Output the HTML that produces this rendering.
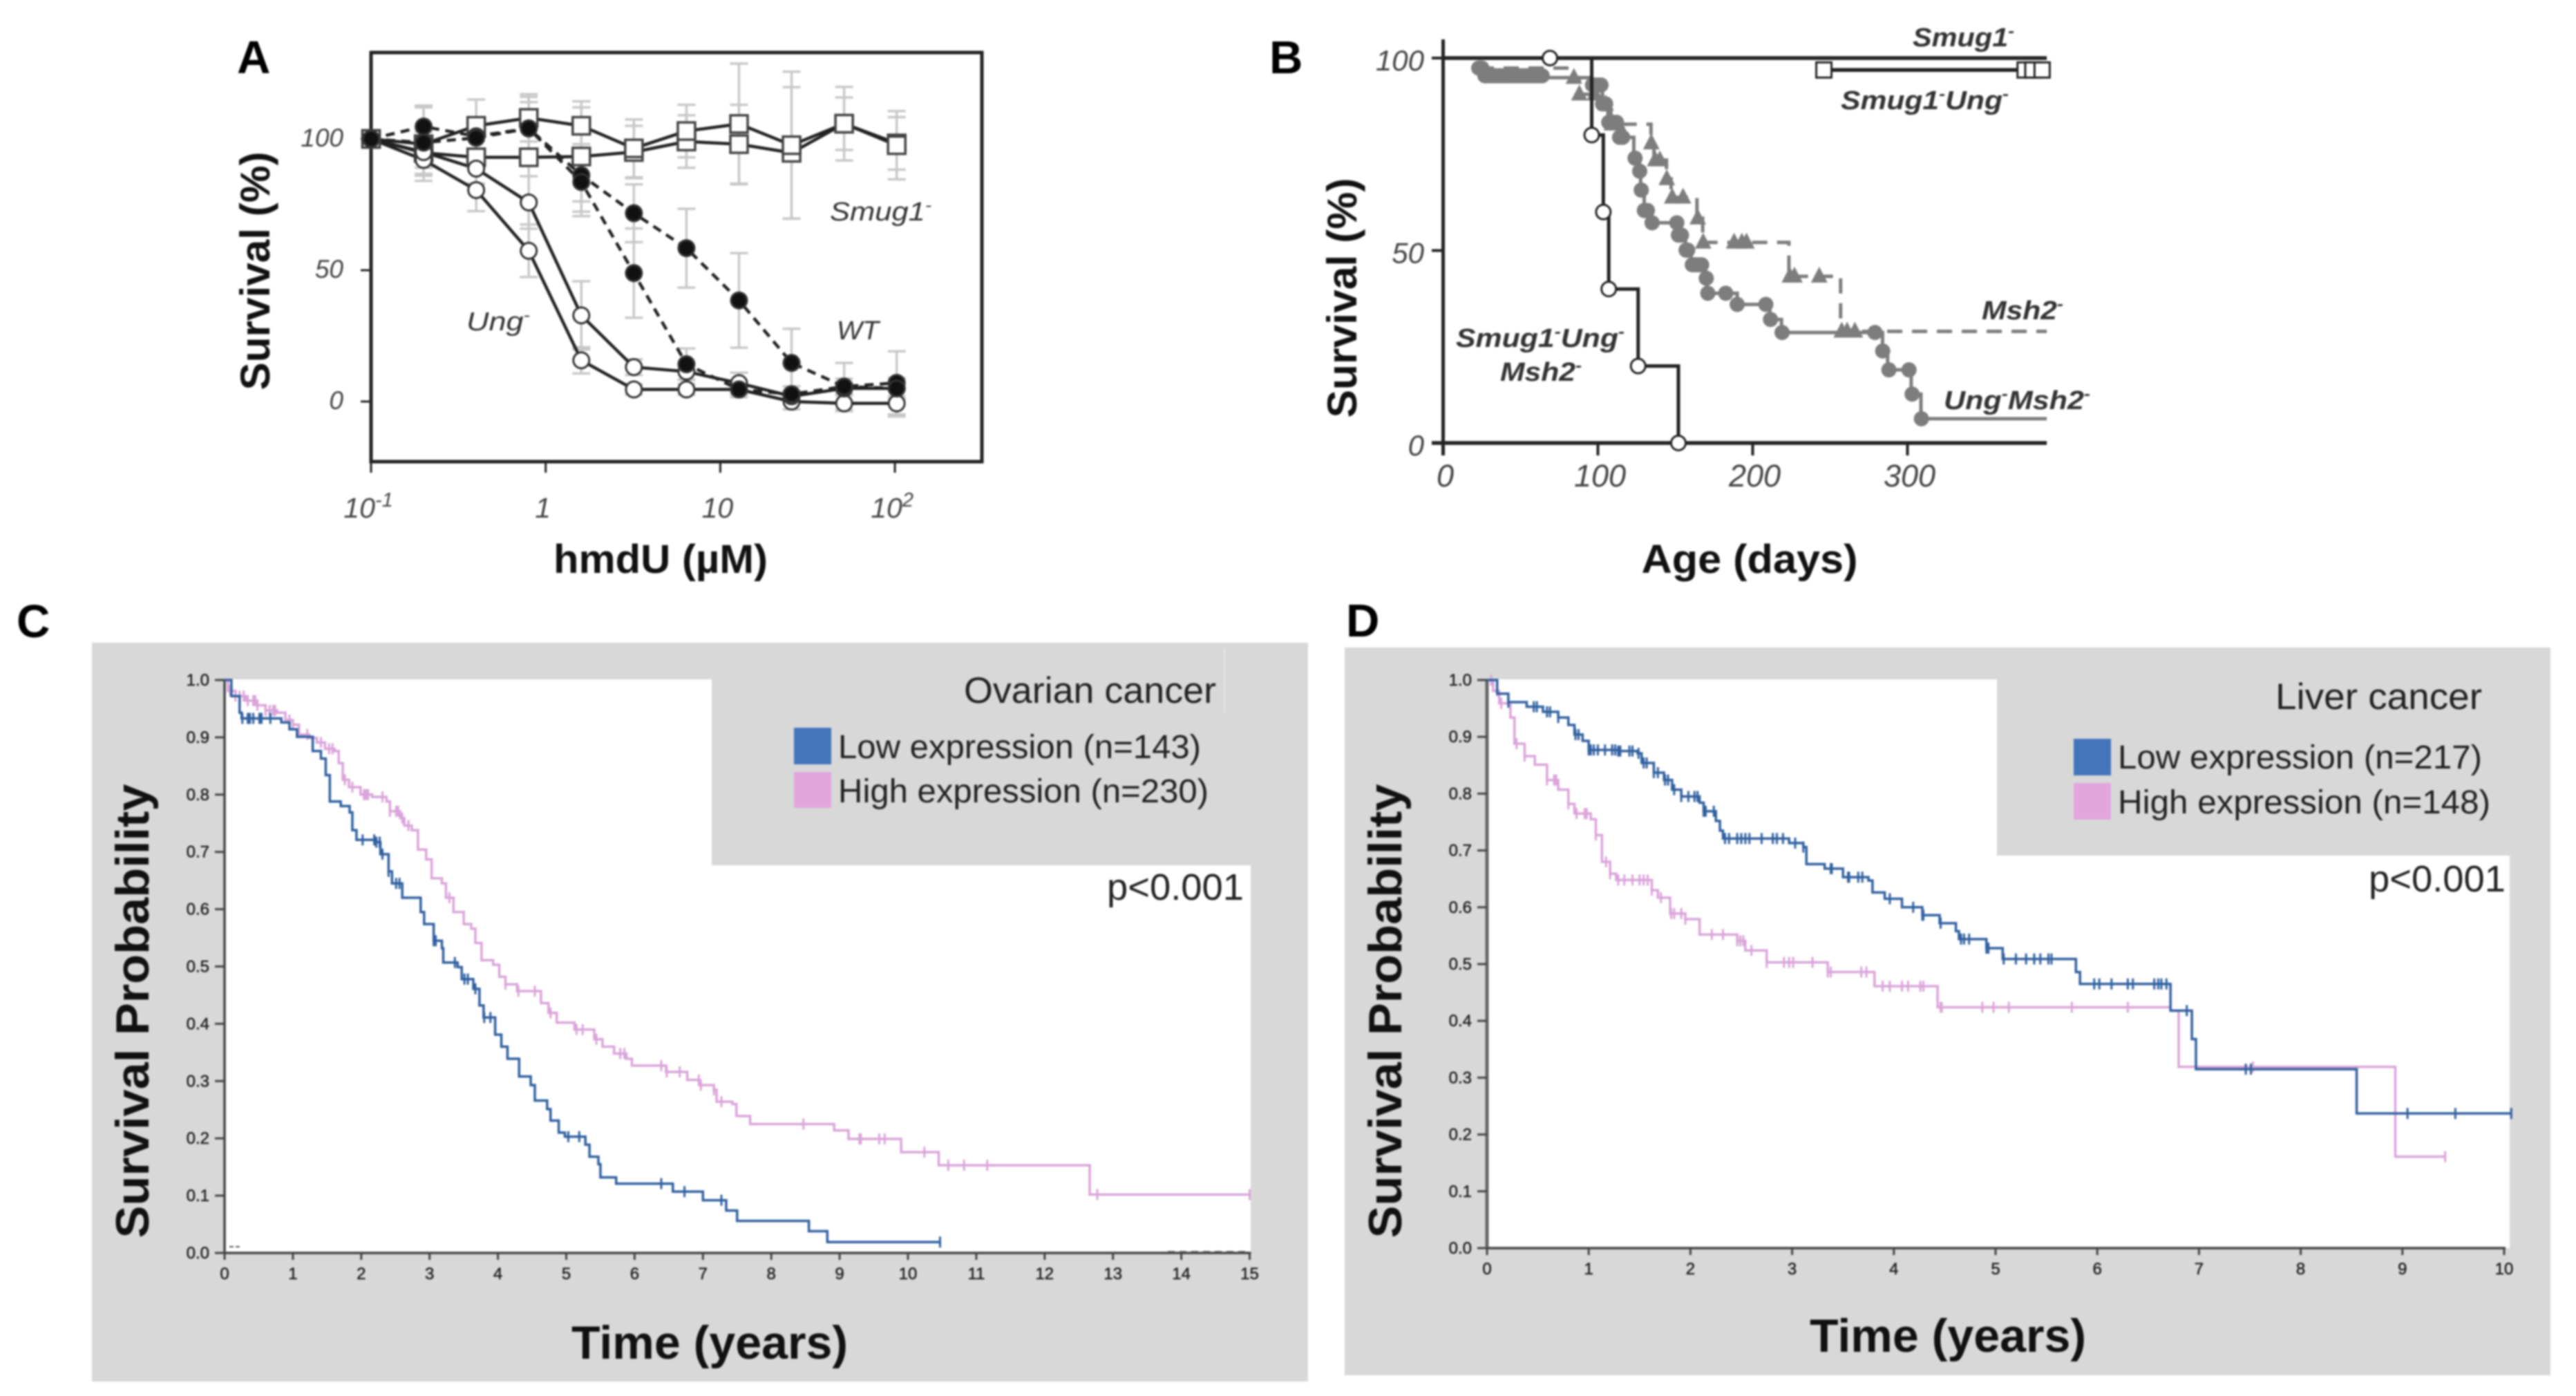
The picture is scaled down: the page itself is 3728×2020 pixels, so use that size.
<!DOCTYPE html>
<html lang="en">
<head>
<meta charset="utf-8">
<title>Survival figure panels A-D</title>
<style>
html,body{margin:0;padding:0;background:#fff;}
#figure{display:block;filter:blur(1.2px);font-family:"Liberation Sans",sans-serif;}
.plabel{font-size:67px;font-weight:700;fill:#000;}
.axt{font-weight:700;fill:#111;}
.ann{font-style:italic;fill:#333;font-size:38px;}
.annb{font-style:italic;font-weight:700;fill:#333;font-size:38px;}
.leg{fill:#222;font-size:48px;}
</style>
</head>
<body>
<svg id="figure" xmlns="http://www.w3.org/2000/svg" width="3728" height="2020" viewBox="0 0 3728 2020">
  <rect x="0" y="0" width="3728" height="2020" fill="#fff"/>

  <!-- Panel A -->
  <g id="panelA">
    <text class="plabel" x="343" y="106">A</text>
    <rect x="537" y="76" width="884" height="592" fill="#fff" stroke="#222" stroke-width="5"/>
    <text class="axt" transform="translate(390,392) rotate(-90)" text-anchor="middle" font-size="60" textLength="345" lengthAdjust="spacingAndGlyphs">Survival (%)</text>
    <text class="axt" x="956" y="829" text-anchor="middle" font-size="58" textLength="310" lengthAdjust="spacingAndGlyphs">hmdU (µM)</text>
    <text class="ann" x="1201" y="319" textLength="147" lengthAdjust="spacingAndGlyphs">Smug1<tspan font-size="24" dy="-14">-</tspan></text>
    <text class="ann" x="675" y="478" textLength="92" lengthAdjust="spacingAndGlyphs">Ung<tspan font-size="24" dy="-14">-</tspan></text>
    <text class="ann" x="1211" y="491" textLength="61" lengthAdjust="spacingAndGlyphs">WT</text>
  </g>

  <!-- Panel B -->
  <g id="panelB">
    <text class="plabel" x="1837" y="106">B</text>
    <text class="axt" transform="translate(1963,431) rotate(-90)" text-anchor="middle" font-size="60" textLength="347" lengthAdjust="spacingAndGlyphs">Survival (%)</text>
    <text class="axt" x="2532" y="829" text-anchor="middle" font-size="58" textLength="313" lengthAdjust="spacingAndGlyphs">Age (days)</text>
    <text class="annb" x="2768" y="67" textLength="147" lengthAdjust="spacingAndGlyphs">Smug1<tspan font-size="24" dy="-14">-</tspan></text>
    <text class="annb" x="2664" y="158" textLength="243" lengthAdjust="spacingAndGlyphs">Smug1<tspan font-size="24" dy="-14">-</tspan><tspan dy="14">Ung</tspan><tspan font-size="24" dy="-14">-</tspan></text>
    <text class="annb" x="2868" y="462" textLength="118" lengthAdjust="spacingAndGlyphs">Msh2<tspan font-size="24" dy="-14">-</tspan></text>
    <text class="annb" x="2813" y="592" textLength="212" lengthAdjust="spacingAndGlyphs">Ung<tspan font-size="24" dy="-14">-</tspan><tspan dy="14">Msh2</tspan><tspan font-size="24" dy="-14">-</tspan></text>
    <text class="annb" x="2107" y="502" textLength="244" lengthAdjust="spacingAndGlyphs">Smug1<tspan font-size="24" dy="-14">-</tspan><tspan dy="14">Ung</tspan><tspan font-size="24" dy="-14">-</tspan></text>
    <text class="annb" x="2171" y="551" textLength="118" lengthAdjust="spacingAndGlyphs">Msh2<tspan font-size="24" dy="-14">-</tspan></text>
  </g>

  <!-- Panel C -->
  <g id="panelC">
    <text class="plabel" x="24" y="922">C</text>
    <rect x="133" y="930" width="1760" height="1069" fill="#d8d8d9"/>
    <rect x="325" y="983" width="1485" height="830" fill="#fff"/>
    <rect x="1030" y="930" width="863" height="322" fill="#d8d8d9"/>
    <line x1="1772" y1="938" x2="1772" y2="1032" stroke="#e6e6e6" stroke-width="2"/>
    <text x="1395" y="1017" font-size="53" fill="#222" textLength="365" lengthAdjust="spacingAndGlyphs">Ovarian cancer</text>
    <rect x="1149" y="1053" width="54" height="53" fill="#4475bb"/>
    <rect x="1149" y="1117" width="54" height="52" fill="#e2a6dd"/>
    <text class="leg" x="1213" y="1097" textLength="525" lengthAdjust="spacingAndGlyphs">Low expression (n=143)</text>
    <text class="leg" x="1213" y="1161" textLength="536" lengthAdjust="spacingAndGlyphs">High expression (n=230)</text>
    <text x="1602" y="1302" font-size="54" fill="#222" textLength="198" lengthAdjust="spacingAndGlyphs">p&lt;0.001</text>
    <text class="axt" transform="translate(215,1463) rotate(-90)" text-anchor="middle" font-size="68" textLength="657" lengthAdjust="spacingAndGlyphs">Survival Probability</text>
    <text class="axt" x="1027" y="1966" text-anchor="middle" font-size="68" textLength="400" lengthAdjust="spacingAndGlyphs">Time (years)</text>
    <line x1="332" y1="1804" x2="347" y2="1804" stroke="#555" stroke-width="2" stroke-dasharray="6 3"/>
    <line x1="1690" y1="1811" x2="1805" y2="1811" stroke="#777" stroke-width="2" stroke-dasharray="10 7"/>
  </g>

  <!-- Panel D -->
  <g id="panelD">
    <text class="plabel" x="1948" y="921">D</text>
    <rect x="1946" y="937" width="1745" height="1053" fill="#d8d8d9"/>
    <rect x="2152" y="983" width="1480" height="823" fill="#fff"/>
    <rect x="2890" y="937" width="801" height="301" fill="#d8d8d9"/>
    <text x="3293" y="1026" font-size="53" fill="#222" textLength="299" lengthAdjust="spacingAndGlyphs">Liver cancer</text>
    <rect x="3001" y="1069" width="54" height="53" fill="#4475bb"/>
    <rect x="3001" y="1133" width="54" height="53" fill="#e2a6dd"/>
    <text class="leg" x="3065" y="1112" textLength="527" lengthAdjust="spacingAndGlyphs">Low expression (n=217)</text>
    <text class="leg" x="3065" y="1177" textLength="539" lengthAdjust="spacingAndGlyphs">High expression (n=148)</text>
    <text x="3428" y="1290" font-size="54" fill="#222" textLength="198" lengthAdjust="spacingAndGlyphs">p&lt;0.001</text>
    <text class="axt" transform="translate(2028,1463) rotate(-90)" text-anchor="middle" font-size="68" textLength="657" lengthAdjust="spacingAndGlyphs">Survival Probability</text>
    <text class="axt" x="2819" y="1956" text-anchor="middle" font-size="68" textLength="400" lengthAdjust="spacingAndGlyphs">Time (years)</text>
  </g>
</svg>

<script>
// ---------- Panel A data ----------
const aDoses = [0.1,0.2,0.4,0.8,1.6,3.2,6.4,12.8,25.6,51.2,102.4];
const aSmugOne = [100,98,105,108,105,96.4,103,105.7,97.6,105.8,97.6];
const aSmugTwo = [100,94.7,93,93,93.3,95,99,98,94.7,105.8,98.3];
const aUngOne = [100,92,80.5,57.4,15.7,4.6,4.6,4.6,0,-0.7,-0.7];
const aUngTwo = [100,95,88.7,75.8,32.8,13.1,11.4,7,2,5,5];
const aWtOne = [100,104.7,101,104,86.2,71.7,58.4,38.5,14.7,5.7,7.1];
const aWtTwo = [100,98.6,100.4,104,83.6,48.9,14.2,4.6,2.8,5.7,5];
const aSmugOneErr = [0,14,10,9,7,11,10,23,28,14,13];
const aSmugTwoErr = [0,8,10,16,21,10,10,15,25,10,10];
const aUngOneErr = [0,6,8,10,5,2,2,2,3,3,5];
const aUngTwoErr = [0,6,6,10,13,3,3,4,2,2,4];
const aWtOneErr = [0,8,6,10,10,11,15,18,13,9,12];
const aWtTwoErr = [0,6,6,12,13,17,6,3,3,3,3];
const aYTicks = [0,50,100];
const aXTicks = [0.1,1,10,100];
const aXTickBase = ['10','1','10','10'];
const aXTickExp = ['-1','','','2'];

// ---------- Panel B data ----------
const bYTicks = [0,50,100];
const bXTicks = [0,100,200,300];
const bSmugCircleDays = [69];
const bSmugUngDays = [246,376,381,387];
const bSmugUngValue = [96.9];
const bTripleDays = [96,103.5,107,126,152];
const bTripleValues = [80,60,40,20,0];
const bUngDays = [23,26.7,65.7,96.1,102.8,106.5,113.9,123.2,126.9,127.6,129.9,134.3,151.8,156.6,160.3,169.6,170.3,190,211.1,218.6,283.9,287.2,302.4,308.7];
const bUngValues = [97.4,95.4,94.9,93,88.1,83.3,79.4,74,70.6,65.7,60.4,57.2,54,50.1,46.3,42.8,38.9,36,32.1,28.7,23.9,19,12.7,6.3];
const bUngMarks = [23,24,25,27,28,29,31,33,34,36,37,39,40,42,44,46,48,50,52,54,56,58,60,62,64,96.5,98,100,102,103,105,107,109,110,112,114,116,124,127,128,130,132,135,151,152,154,157,158,161,163,165,167,170,171,182.6,190,208.5,211.5,219,279,284,288,301,303,309];
const bMshDays = [23,84,88,103,108.4,134.3,136.2,144.3,147.3,164,167.7,223.4,256.8];
const bMshValues = [97.4,94.9,90.6,88,82.8,77.9,73.5,68.6,63.8,58.4,52.1,43.3,29];
const bMshMarks = [84.5,88,98,105,109,113,134.5,137,140,144.5,148,155,164.5,168,188,193,196,224,227,243,257.5,261,266];

// ---------- Panel C data ----------
const cYTicks = [0,0.1,0.2,0.3,0.4,0.5,0.6,0.7,0.8,0.9,1];
const cXTicks = [0,1,2,3,4,5,6,7,8,9,10,11,12,13,14,15];
const cLowTimes = [0.10,0.22,0.25,0.83,0.95,1.06,1.29,1.41,1.48,1.54,1.70,1.83,1.87,1.93,2.22,2.28,2.40,2.45,2.60,2.87,2.92,3.06,3.18,3.20,3.41,3.47,3.64,3.73,3.79,3.96,4.05,4.14,4.31,4.48,4.54,4.72,4.77,4.89,4.98,5.28,5.34,5.47,5.50,5.73,6.56,7.00,7.34,7.50,8.55,8.82];
const cLowValues = [0.972,0.943,0.933,0.926,0.914,0.901,0.876,0.863,0.834,0.788,0.780,0.769,0.738,0.721,0.717,0.696,0.666,0.645,0.620,0.595,0.574,0.545,0.532,0.507,0.499,0.478,0.461,0.432,0.411,0.381,0.360,0.339,0.308,0.293,0.266,0.251,0.231,0.210,0.203,0.189,0.168,0.155,0.132,0.121,0.107,0.092,0.074,0.056,0.038,0.019];
const cLowEnd = [10.47];
const cLowCensor = [0.26,0.34,0.37,0.42,0.51,0.54,0.67,2.02,2.19,2.22,2.27,2.31,2.40,2.51,2.56,3.06,3.09,3.37,3.51,3.56,3.67,3.80,3.89,5.03,5.19,6.39,6.73,7.27,10.47];
const cHighTimes = [0.05,0.16,0.31,0.48,0.60,0.77,0.89,1.00,1.09,1.24,1.35,1.47,1.61,1.67,1.73,1.82,1.99,2.16,2.37,2.42,2.57,2.63,2.74,2.83,2.95,3.03,3.18,3.24,3.35,3.50,3.61,3.67,3.76,3.93,4.02,4.11,4.28,4.63,4.74,4.86,5.12,5.41,5.53,5.70,5.88,5.96,6.46,6.77,6.95,7.16,7.20,7.43,7.49,7.69,8.92,9.13,9.90,10.45,12.66];
const cHighValues = [0.981,0.972,0.964,0.956,0.947,0.943,0.930,0.922,0.905,0.899,0.891,0.880,0.876,0.855,0.826,0.813,0.800,0.796,0.788,0.771,0.759,0.746,0.738,0.704,0.687,0.654,0.645,0.620,0.595,0.574,0.566,0.541,0.511,0.503,0.482,0.469,0.457,0.436,0.419,0.402,0.390,0.373,0.360,0.348,0.339,0.327,0.316,0.302,0.293,0.285,0.264,0.260,0.239,0.225,0.214,0.199,0.176,0.153,0.102];
const cHighEnd = [15];
const cHighCensor = [0.08,0.16,0.22,0.28,0.34,0.42,0.45,0.48,0.60,0.66,0.71,0.74,0.95,1.00,1.21,1.41,1.53,1.58,1.76,1.87,2.04,2.07,2.10,2.31,2.42,2.51,2.54,2.60,2.69,3.29,4.11,4.30,4.54,4.77,5.15,5.24,5.44,5.79,5.85,6.39,6.47,6.66,6.94,6.97,7.16,7.27,8.47,9.29,9.31,9.58,9.66,10.24,10.59,10.82,11.16,12.77,15];

// ---------- Panel D data ----------
const dYTicks = [0,0.1,0.2,0.3,0.4,0.5,0.6,0.7,0.8,0.9,1];
const dXTicks = [0,1,2,3,4,5,6,7,8,9,10];
const dLowTimes = [0.10,0.21,0.39,0.55,0.70,0.80,0.86,0.94,1.00,1.29,1.48,1.52,1.64,1.74,1.82,1.91,2.09,2.13,2.25,2.29,2.32,2.97,3.11,3.14,3.32,3.50,3.75,3.79,3.91,4.08,4.28,4.45,4.61,4.64,4.91,5.07,5.79,5.83,6.72,6.93,6.97,8.55];
const dLowValues = [0.976,0.961,0.953,0.944,0.934,0.921,0.904,0.893,0.877,0.875,0.871,0.854,0.837,0.824,0.807,0.795,0.784,0.769,0.752,0.735,0.721,0.713,0.706,0.676,0.668,0.653,0.647,0.626,0.615,0.600,0.586,0.572,0.558,0.544,0.528,0.509,0.486,0.465,0.418,0.368,0.315,0.237];
const dLowEnd = [10.07];
const dLowCensor = [0.21,0.46,0.49,0.59,0.62,0.70,0.87,0.90,1.00,1.02,1.05,1.09,1.16,1.23,1.26,1.29,1.31,1.40,1.43,1.49,1.54,1.57,1.64,1.68,1.75,1.78,1.84,1.91,1.98,2.04,2.07,2.13,2.15,2.23,2.34,2.38,2.46,2.50,2.54,2.58,2.70,2.81,2.85,2.91,3.03,3.11,3.38,3.39,3.55,3.56,3.65,3.69,3.96,4.19,4.28,4.29,4.46,4.66,4.69,4.74,4.91,4.93,5.08,5.20,5.30,5.38,5.44,5.52,5.55,5.97,6.02,6.14,6.30,6.35,6.56,6.60,6.63,6.68,6.88,7.46,7.51,9.05,9.52,10.07];
const dHighTimes = [0.06,0.12,0.23,0.27,0.37,0.47,0.59,0.70,0.80,0.86,1.02,1.07,1.13,1.21,1.27,1.62,1.68,1.80,1.95,2.09,2.46,2.54,2.75,3.35,3.81,4.43,6.72,6.80,8.93];
const dHighValues = [0.981,0.959,0.934,0.888,0.866,0.851,0.824,0.807,0.782,0.765,0.755,0.727,0.680,0.659,0.648,0.630,0.617,0.589,0.579,0.552,0.541,0.524,0.503,0.486,0.461,0.424,0.418,0.319,0.161];
const dHighEnd = [9.42];
const dHighCensor = [0.04,0.10,0.14,0.29,0.37,0.59,0.66,0.68,0.80,0.88,0.96,0.98,1.07,1.17,1.21,1.29,1.35,1.43,1.50,1.54,1.58,1.62,1.71,1.81,1.84,1.91,1.95,2.21,2.32,2.46,2.49,2.52,2.60,2.75,2.92,2.97,3.01,3.20,3.35,3.38,3.68,3.73,3.89,3.96,4.08,4.14,4.26,4.29,4.47,4.46,4.87,4.98,5.13,5.75,6.30,7.53,9.42];

// ---------- shared helpers ----------
const NS = 'http://www.w3.org/2000/svg';
function svgEl(tag, parent) {
  const el = document.createElementNS(NS, tag);
  parent.appendChild(el);
  return el;
}
function stepValueAt(times, values, t, startValue) {
  let v = startValue;
  for (let i = 0; i < times.length; i++) {
    if (times[i] <= t) v = values[i];
  }
  return v;
}
function stepPath(times, values, startT, startV, endT, xF, yF) {
  let d = 'M' + xF(startT) + ' ' + yF(startV);
  for (let i = 0; i < times.length; i++) {
    d += ' H' + xF(times[i]) + ' V' + yF(values[i]);
  }
  d += ' H' + xF(endT);
  return d;
}

// ---------- Panel A ----------
const gA = document.getElementById('panelA');
const xA = d => 537 + 252.7 * Math.log10(d / 0.1);
const yA = v => 581 - 3.8 * v;

aYTicks.forEach(v => {
  const t = svgEl('line', gA);
  t.setAttribute('x1', 522); t.setAttribute('x2', 537);
  t.setAttribute('y1', yA(v)); t.setAttribute('y2', yA(v));
  t.setAttribute('stroke', '#222'); t.setAttribute('stroke-width', 3);
  
  
  const l = svgEl('text', gA);
  l.textContent = String(v);
  l.setAttribute('x', 497); l.setAttribute('y', yA(v) + 11);
  l.setAttribute('text-anchor', 'end');
  l.setAttribute('font-size', 37); l.setAttribute('font-style', 'italic'); l.setAttribute('fill', '#444');
  
  
});
aXTicks.forEach((v, i) => {
  const t = svgEl('line', gA);
  t.setAttribute('x1', xA(v)); t.setAttribute('x2', xA(v));
  t.setAttribute('y1', 668); t.setAttribute('y2', 684);
  t.setAttribute('stroke', '#222'); t.setAttribute('stroke-width', 3);
  
  
  const l = svgEl('text', gA);
  l.setAttribute('x', xA(v) - 4); l.setAttribute('y', 749);
  l.setAttribute('text-anchor', 'middle');
  l.setAttribute('font-size', 41); l.setAttribute('font-style', 'italic'); l.setAttribute('fill', '#444');
  
  
  l.textContent = aXTickBase[i];
  if (aXTickExp[i]) {
    const s = svgEl('tspan', l);
    s.textContent = aXTickExp[i];
    s.setAttribute('font-size', 29);
    s.setAttribute('dy', -16);
    
    
  }
});

function errorBars(vals, errs) {
  vals.forEach((v, i) => {
    if (!errs[i]) return;
    const x = xA(aDoses[i]);
    const g = svgEl('path', gA);
    g.setAttribute('d', 'M' + x + ' ' + yA(v + errs[i]) + ' V' + yA(v - errs[i]) +
      ' M' + (x - 13) + ' ' + yA(v + errs[i]) + ' H' + (x + 13) +
      ' M' + (x - 13) + ' ' + yA(v - errs[i]) + ' H' + (x + 13));
    g.setAttribute('fill', 'none');
    g.setAttribute('stroke', '#c8c8c8');
    g.setAttribute('stroke-width', 3.5);
    
    
  });
}
errorBars(aSmugOne, aSmugOneErr);
errorBars(aSmugTwo, aSmugTwoErr);
errorBars(aUngOne, aUngOneErr);
errorBars(aUngTwo, aUngTwoErr);
errorBars(aWtOne, aWtOneErr);
errorBars(aWtTwo, aWtTwoErr);

function seriesLine(vals, dashed, name) {
  const p = svgEl('path', gA);
  p.setAttribute('d', vals.map((v, i) => (i ? 'L' : 'M') + xA(aDoses[i]) + ' ' + yA(v)).join(' '));
  p.setAttribute('fill', 'none');
  p.setAttribute('stroke', '#222');
  p.setAttribute('stroke-width', 4.5);
  if (dashed) p.setAttribute('stroke-dasharray', '13 9');
  
  
}
function circleMarks(vals, fill, name) {
  vals.forEach((v, i) => {
    const c = svgEl('circle', gA);
    c.setAttribute('cx', xA(aDoses[i])); c.setAttribute('cy', yA(v)); c.setAttribute('r', 11.5);
    c.setAttribute('fill', fill);
    c.setAttribute('stroke', '#333');
    c.setAttribute('stroke-width', 3);
    
    
  });
}
function squareMarks(vals, name) {
  vals.forEach((v, i) => {
    const r = svgEl('rect', gA);
    r.setAttribute('x', xA(aDoses[i]) - 12.5); r.setAttribute('y', yA(v) - 12.5);
    r.setAttribute('width', 25); r.setAttribute('height', 25);
    r.setAttribute('fill', '#fff');
    r.setAttribute('stroke', '#444');
    r.setAttribute('stroke-width', 3.5);
    
    
  });
}
seriesLine(aSmugOne, false, 'smug1-line-1');
seriesLine(aSmugTwo, false, 'smug1-line-2');
seriesLine(aUngOne, false, 'ung-line-1');
seriesLine(aUngTwo, false, 'ung-line-2');
seriesLine(aWtOne, true, 'wt-line-1');
seriesLine(aWtTwo, true, 'wt-line-2');
squareMarks(aSmugTwo, 'smug1-point');
squareMarks(aSmugOne, 'smug1-point');
circleMarks(aUngOne, '#fff', 'ung-point');
circleMarks(aUngTwo, '#fff', 'ung-point');
circleMarks(aWtOne, '#111', 'wt-point');
circleMarks(aWtTwo, '#111', 'wt-point');

// ---------- Panel B ----------
const gB = document.getElementById('panelB');
const xB = d => 2088.5 + 2.24 * d;
const yB = v => 641 - 5.57 * v;

const bYAxis = svgEl('line', gB);
bYAxis.setAttribute('x1', xB(0)); bYAxis.setAttribute('x2', xB(0));
bYAxis.setAttribute('y1', 57); bYAxis.setAttribute('y2', 659);
bYAxis.setAttribute('stroke', '#222'); bYAxis.setAttribute('stroke-width', 5);



const bXAxis = svgEl('line', gB);
bXAxis.setAttribute('x1', 2072); bXAxis.setAttribute('x2', xB(390));
bXAxis.setAttribute('y1', yB(0)); bXAxis.setAttribute('y2', yB(0));
bXAxis.setAttribute('stroke', '#222'); bXAxis.setAttribute('stroke-width', 5.5);



bYTicks.forEach(v => {
  const t = svgEl('line', gB);
  t.setAttribute('x1', 2072); t.setAttribute('x2', xB(0));
  t.setAttribute('y1', yB(v)); t.setAttribute('y2', yB(v));
  t.setAttribute('stroke', '#222'); t.setAttribute('stroke-width', 4);
  
  
  const l = svgEl('text', gB);
  l.textContent = String(v);
  l.setAttribute('x', 2061); l.setAttribute('y', yB(v) + 18);
  l.setAttribute('text-anchor', 'end');
  l.setAttribute('font-size', 42); l.setAttribute('font-style', 'italic'); l.setAttribute('fill', '#444');
  
  
});
bXTicks.forEach(v => {
  const t = svgEl('line', gB);
  t.setAttribute('x1', xB(v)); t.setAttribute('x2', xB(v));
  t.setAttribute('y1', yB(0)); t.setAttribute('y2', 659);
  t.setAttribute('stroke', '#222'); t.setAttribute('stroke-width', 4);
  
  
  const l = svgEl('text', gB);
  l.textContent = String(v);
  l.setAttribute('x', xB(v) + 3); l.setAttribute('y', 704);
  l.setAttribute('text-anchor', 'middle');
  l.setAttribute('font-size', 45); l.setAttribute('font-style', 'italic'); l.setAttribute('fill', '#444');
  
  
});

function bMarker(kind, d, v, fill, name) {
  let m;
  if (kind === 'circle') {
    m = svgEl('circle', gB);
    m.setAttribute('cx', xB(d)); m.setAttribute('cy', yB(v)); m.setAttribute('r', fill === '#fff' ? 10.5 : 11);
  } else if (kind === 'square') {
    m = svgEl('rect', gB);
    m.setAttribute('x', xB(d) - 11); m.setAttribute('y', yB(v) - 11);
    m.setAttribute('width', 22); m.setAttribute('height', 22);
  } else {
    m = svgEl('polygon', gB);
    m.setAttribute('points', xB(d) + ',' + (yB(v) - 14) + ' ' + (xB(d) + 12) + ',' + (yB(v) + 9) + ' ' + (xB(d) - 12) + ',' + (yB(v) + 9));
  }
  m.setAttribute('fill', fill);
  if (fill === '#fff') {
    m.setAttribute('stroke', '#222');
    m.setAttribute('stroke-width', 3);
  }
  
  
}

// gray series first
const bMshLine = svgEl('path', gB);
bMshLine.setAttribute('d', stepPath(bMshDays.slice(1), bMshValues.slice(1), bMshDays[0], bMshValues[0], 390, xB, yB));
bMshLine.setAttribute('fill', 'none');
bMshLine.setAttribute('stroke', '#7d7d7d');
bMshLine.setAttribute('stroke-width', 5);
bMshLine.setAttribute('stroke-dasharray', '22 14');


bMshMarks.forEach(d => bMarker('triangle', d, stepValueAt(bMshDays, bMshValues, d, 100), '#7d7d7d', 'msh2-censor-mark'));

const bUngLine = svgEl('path', gB);
bUngLine.setAttribute('d', stepPath(bUngDays.slice(1), bUngValues.slice(1), bUngDays[0], bUngValues[0], 390, xB, yB));
bUngLine.setAttribute('fill', 'none');
bUngLine.setAttribute('stroke', '#7d7d7d');
bUngLine.setAttribute('stroke-width', 5);


bUngMarks.forEach(d => bMarker('circle', d, stepValueAt(bUngDays, bUngValues, d, 100), '#7d7d7d', 'ung-msh2-censor-mark'));

const bSmugLine = svgEl('line', gB);
bSmugLine.setAttribute('x1', xB(0)); bSmugLine.setAttribute('x2', xB(390));
bSmugLine.setAttribute('y1', yB(100)); bSmugLine.setAttribute('y2', yB(100));
bSmugLine.setAttribute('stroke', '#222'); bSmugLine.setAttribute('stroke-width', 5.5);


bSmugCircleDays.forEach(d => bMarker('circle', d, 100, '#fff', 'smug1-censor-mark'));

const bSmugUngLine = svgEl('line', gB);
bSmugUngLine.setAttribute('x1', xB(bSmugUngDays[0])); bSmugUngLine.setAttribute('x2', xB(390));
bSmugUngLine.setAttribute('y1', yB(bSmugUngValue[0])); bSmugUngLine.setAttribute('y2', yB(bSmugUngValue[0]));
bSmugUngLine.setAttribute('stroke', '#222'); bSmugUngLine.setAttribute('stroke-width', 5.5);


bSmugUngDays.forEach(d => bMarker('square', d, bSmugUngValue[0], '#fff', 'smug1-ung-censor-mark'));

const bTripleLine = svgEl('path', gB);
bTripleLine.setAttribute('d', stepPath(bTripleDays, bTripleValues, bTripleDays[0], 100, bTripleDays[bTripleDays.length - 1], xB, yB));
bTripleLine.setAttribute('fill', 'none');
bTripleLine.setAttribute('stroke', '#222');
bTripleLine.setAttribute('stroke-width', 5);


bTripleDays.forEach((d, i) => bMarker('circle', d, bTripleValues[i], '#fff', 'triple-knockout-point'));

// ---------- Kaplan-Meier panels ----------
function axesKM(g, xF, yF, xTicks, yTicks, labelY, yLabelX, axisColor, axisW, prefix) {
  const yAxis = svgEl('line', g);
  yAxis.setAttribute('x1', xF(0)); yAxis.setAttribute('x2', xF(0));
  yAxis.setAttribute('y1', yF(1)); yAxis.setAttribute('y2', yF(0));
  yAxis.setAttribute('stroke', axisColor); yAxis.setAttribute('stroke-width', axisW);
  
  
  const xAxis = svgEl('line', g);
  xAxis.setAttribute('x1', xF(0)); xAxis.setAttribute('x2', xF(xTicks[xTicks.length - 1]) + 2);
  xAxis.setAttribute('y1', yF(0)); xAxis.setAttribute('y2', yF(0));
  xAxis.setAttribute('stroke', '#444'); xAxis.setAttribute('stroke-width', 3.5);
  
  
  yTicks.forEach(v => {
    const t = svgEl('line', g);
    t.setAttribute('x1', xF(0) - 14); t.setAttribute('x2', xF(0));
    t.setAttribute('y1', yF(v)); t.setAttribute('y2', yF(v));
    t.setAttribute('stroke', '#444'); t.setAttribute('stroke-width', 3);
    
    
    const l = svgEl('text', g);
    l.textContent = v.toFixed(1);
    l.setAttribute('x', yLabelX); l.setAttribute('y', yF(v) + 8);
    l.setAttribute('text-anchor', 'end');
    l.setAttribute('font-size', 24); l.setAttribute('fill', '#222');
    l.setAttribute('stroke', '#222'); l.setAttribute('stroke-width', 0.5);
    
    
  });
  xTicks.forEach(v => {
    const t = svgEl('line', g);
    t.setAttribute('x1', xF(v)); t.setAttribute('x2', xF(v));
    t.setAttribute('y1', yF(0)); t.setAttribute('y2', yF(0) + 10);
    t.setAttribute('stroke', '#444'); t.setAttribute('stroke-width', 3);
    
    
    const l = svgEl('text', g);
    l.textContent = String(v);
    l.setAttribute('x', xF(v)); l.setAttribute('y', labelY);
    l.setAttribute('text-anchor', 'middle');
    l.setAttribute('font-size', 24); l.setAttribute('fill', '#222');
    l.setAttribute('stroke', '#222'); l.setAttribute('stroke-width', 0.5);
    
    
  });
}
function curveKM(g, times, values, endT, censor, color, xF, yF, name) {
  const p = svgEl('path', g);
  p.setAttribute('d', stepPath(times, values, 0, 1, endT, xF, yF));
  p.setAttribute('fill', 'none');
  p.setAttribute('stroke', color);
  p.setAttribute('stroke-width', 3.5);
  
  
  censor.forEach(t => {
    const v = stepValueAt(times, values, t, 1);
    const m = svgEl('line', g);
    m.setAttribute('x1', xF(t)); m.setAttribute('x2', xF(t));
    m.setAttribute('y1', yF(v) - 8); m.setAttribute('y2', yF(v) + 8);
    m.setAttribute('stroke', color);
    m.setAttribute('stroke-width', 3);
    
    
  });
}

const gC = document.getElementById('panelC');
const xC = t => 325 + 98.9 * t;
const yC = v => 1813 - 829 * v;
axesKM(gC, xC, yC, cXTicks, cYTicks, 1851, 303, '#444', 3.5, 'panel-c');
curveKM(gC, cHighTimes, cHighValues, cHighEnd[0], cHighCensor, '#daa4d9', xC, yC, 'high-expression-c');
curveKM(gC, cLowTimes, cLowValues, cLowEnd[0], cLowCensor, '#30609f', xC, yC, 'low-expression-c');

const gD = document.getElementById('panelD');
const xD = t => 2152 + 147.2 * t;
const yD = v => 1806 - 822 * v;
axesKM(gD, xD, yD, dXTicks, dYTicks, 1844, 2130, '#666', 5, 'panel-d');
curveKM(gD, dHighTimes, dHighValues, dHighEnd[0], dHighCensor, '#daa4d9', xD, yD, 'high-expression-d');
curveKM(gD, dLowTimes, dLowValues, dLowEnd[0], dLowCensor, '#30609f', xD, yD, 'low-expression-d');
</script>
</body>
</html>
